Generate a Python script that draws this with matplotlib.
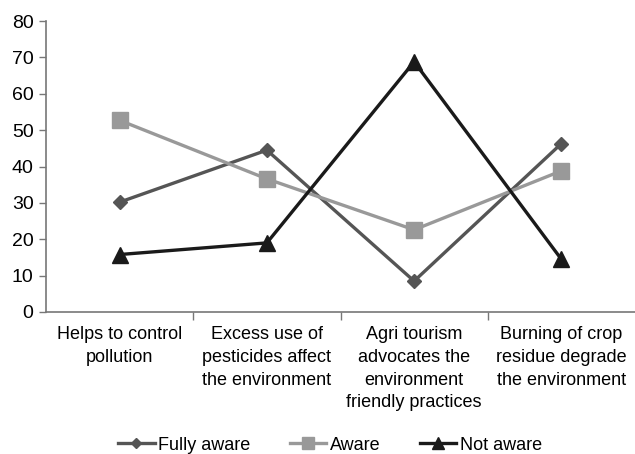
import matplotlib
matplotlib.use('Agg')
import matplotlib.pyplot as plt
import numpy as np

# Awareness survey responses (%)
categories = [
    'Helps to control\npollution',
    'Excess use of\npesticides affect\nthe environment',
    'Agri tourism\nadvocates the\nenvironment\nfriendly practices',
    'Burning of crop\nresidue degrade\nthe environment',
]
fully_aware = [30.2, 44.5, 8.5, 46.3]
aware = [52.7, 36.6, 22.6, 38.8]
not_aware = [15.8, 19.0, 68.8, 14.5]

plt.rcParams['font.family'] = ['Liberation Sans', 'DejaVu Sans']

fig = plt.figure(figsize=(6.35, 4.54), dpi=100)
ax = fig.add_axes([46 / 635, 1 - 312 / 454, 1 - 46 / 635, (312 - 21) / 454])

x = np.arange(len(categories))
ax.plot(x, fully_aware, color='#555555', lw=2.4, marker='D', ms=7,
        label='Fully aware')
ax.plot(x, aware, color='#999999', lw=2.4, marker='s', ms=11.5,
        label='Aware')
ax.plot(x, not_aware, color='#1a1a1a', lw=2.4, marker='^', ms=11,
        label='Not aware')

ax.set_xlim(-0.5, len(categories) - 0.5)
ax.set_ylim(0, 80)
ax.set_yticks(range(0, 81, 10))

# category labels centred, tick marks on the boundaries
ax.set_xticks(x)
ax.set_xticklabels(categories, fontsize=13, linespacing=1.45, va='top')
ax.tick_params(axis='x', which='major', length=0, pad=10)
ax.set_xticks(np.arange(0.5, len(categories) - 0.5, 1), minor=True)
ax.tick_params(axis='x', which='minor', length=6, color='#777777', width=1)
ax.tick_params(axis='y', length=5, color='#777777', width=1, labelsize=14,
               pad=4)

for side in ['top', 'right']:
    ax.spines[side].set_visible(False)
for side in ['left', 'bottom']:
    ax.spines[side].set_color('#777777')
    ax.spines[side].set_linewidth(1.2)

fig.legend(loc='lower center', bbox_to_anchor=(0.52, -0.035), ncol=3,
           frameon=False, fontsize=13, handlelength=2.0, handletextpad=0.2,
           columnspacing=2.2, markerscale=0.8)

fig.savefig('out.png', dpi=100, facecolor='white')
